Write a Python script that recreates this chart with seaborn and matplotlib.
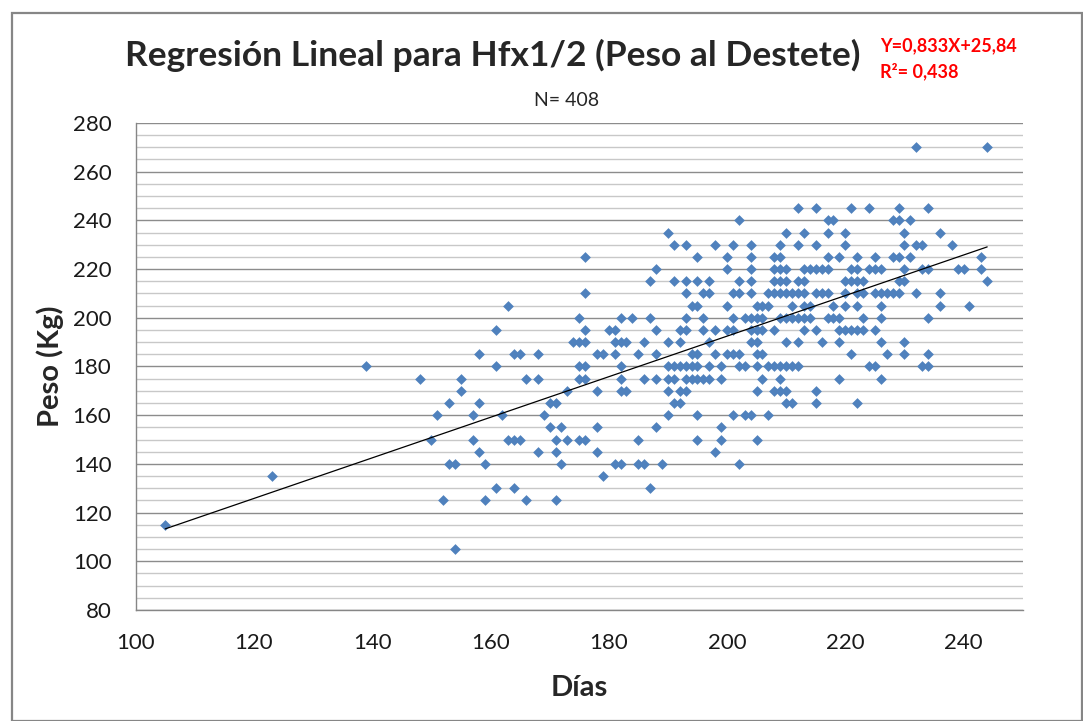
"""Regresion lineal Hfx1/2: peso al destete vs dias."""
import numpy as np
import pandas as pd
import matplotlib
matplotlib.use("Agg")
import matplotlib.pyplot as plt
import seaborn as sns
from matplotlib.patches import Rectangle
from matplotlib.ticker import MultipleLocator

PESO_NIVELES = [270, 245, 240, 235, 230, 225, 220, 215, 210, 205, 200, 195, 190,
                185, 180, 175, 170, 165, 160, 155, 150, 145, 140, 135, 130, 125,
                115, 105]
DIAS_POR_NIVEL = [
    [232, 244],
    [212, 215, 221, 224, 229, 234],
    [202, 217, 218, 228, 229, 231],
    [190, 210, 213, 217, 220, 230, 236],
    [191, 193, 198, 201, 204, 209, 212, 215, 220, 230, 232, 233, 238],
    [176, 195, 200, 204, 208, 209, 217, 219, 222, 225, 228, 229, 231, 243],
    [188, 200, 204, 208, 209, 210, 213, 214, 215, 216, 217, 221, 222, 224, 225,
     226, 230, 233, 234, 239, 240, 243],
    [187, 191, 193, 195, 197, 202, 204, 208, 209, 210, 212, 213, 220, 221, 222,
     223, 229, 230, 244],
    [176, 193, 196, 197, 201, 202, 204, 207, 208, 209, 210, 211, 212, 213, 215,
     216, 217, 220, 222, 223, 225, 226, 227, 228, 229, 232, 236],
    [163, 194, 195, 200, 205, 206, 207, 211, 213, 214, 218, 220, 222, 226, 236, 241],
    [175, 182, 184, 187, 193, 196, 201, 203, 204, 205, 206, 209, 210, 211, 212,
     213, 214, 217, 218, 219, 223, 226, 234],
    [161, 176, 180, 181, 188, 192, 193, 196, 198, 200, 201, 204, 205, 206, 208,
     213, 215, 219, 220, 221, 222, 223, 225],
    [174, 175, 176, 181, 182, 183, 186, 190, 192, 197, 204, 205, 210, 212, 216,
     219, 226, 230],
    [158, 164, 165, 168, 178, 179, 181, 185, 188, 194, 195, 198, 200, 201, 202,
     205, 206, 221, 227, 230, 234],
    [139, 161, 175, 176, 182, 190, 191, 192, 193, 194, 195, 197, 199, 202, 203,
     205, 207, 208, 209, 210, 211, 212, 224, 225, 233, 234],
    [148, 155, 166, 168, 175, 176, 182, 186, 188, 190, 191, 193, 194, 195, 196,
     197, 199, 206, 209, 219, 226],
    [155, 173, 178, 182, 183, 190, 192, 193, 205, 208, 209, 210, 215],
    [153, 158, 170, 171, 191, 192, 210, 211, 215, 222],
    [151, 157, 162, 169, 190, 195, 201, 203, 204, 207],
    [170, 172, 178, 188, 199],
    [150, 157, 163, 164, 165, 171, 173, 175, 176, 185, 195, 199, 205],
    [158, 168, 171, 178, 198],
    [153, 154, 159, 172, 181, 182, 185, 186, 189, 202],
    [123, 179],
    [161, 164, 187],
    [152, 159, 166, 171],
    [105],
    [154],
]

# trend line as printed on the chart
PENDIENTE = 0.833
INTERCEPTO = 25.84
N_TOTAL = 408
R2 = 0.438

X_TICKS = [100, 120, 140, 160, 180, 200, 220, 240]
Y_TICKS = [80, 100, 120, 140, 160, 180, 200, 220, 240, 260, 280]

AZUL = "#4F81BD"
GRIS = "#868686"


def build_frame():
    rows = []
    for peso, dias in zip(PESO_NIVELES, DIAS_POR_NIVEL):
        for d in dias:
            rows.append({"dias": d, "peso": peso})
    return pd.DataFrame(rows)


def main():
    df = build_frame()
    sns.set_style("white")
    plt.rcParams["font.family"] = ["Lato", "DejaVu Sans"]

    fig = plt.figure(figsize=(10.83, 7.21), dpi=100)
    ax = fig.add_axes([0.1253, 0.154, 0.8190, 0.6755])

    # chart frame
    fig.patches.append(Rectangle((12 / 1083, 0), 1 - 13 / 1083, 1 - 13 / 721,
                                 transform=fig.transFigure, fill=False,
                                 edgecolor=GRIS, linewidth=1.6))

    ax.set_xlim(100, 250)
    ax.set_ylim(80, 280)
    ax.yaxis.set_minor_locator(MultipleLocator(5))
    ax.set_yticks(Y_TICKS)
    ax.set_xticks(X_TICKS)
    ax.grid(False)
    ax.grid(True, which="minor", axis="y", color="#C8C8C8", linewidth=1.0)
    ax.grid(True, which="major", axis="y", color="#8C8C8C", linewidth=1.0)
    ax.set_axisbelow(True)

    sns.scatterplot(data=df, x="dias", y="peso", marker="D", color=AZUL,
                    s=30, linewidth=0, ax=ax, zorder=3)

    xl = np.array([df["dias"].min(), df["dias"].max()])
    sns.lineplot(x=xl, y=PENDIENTE * xl + INTERCEPTO, color="black",
                 linewidth=0.9, ax=ax, zorder=4)

    for side in ["top", "right"]:
        ax.spines[side].set_visible(False)
    for side in ["left", "bottom"]:
        ax.spines[side].set_color(GRIS)
        ax.spines[side].set_linewidth(1.0)
    ax.tick_params(axis="both", which="major", direction="out", length=5.5,
                   color=GRIS, labelsize=16, labelcolor="#1a1a1a")
    ax.tick_params(axis="y", which="minor", length=0)
    ax.tick_params(axis="y", pad=12)
    ax.tick_params(axis="x", pad=11)

    ax.set_xlabel("Días", fontsize=21, fontweight="bold", va="center")
    ax.set_ylabel("Peso (Kg)", fontsize=21, fontweight="bold", va="center")
    ax.xaxis.set_label_coords(0.5, -0.160)
    ax.yaxis.set_label_coords(-0.0966, 0.5)

    fig.text(493 / 1083, 1 - 55 / 721, "Regresión Lineal para Hfx1/2 (Peso al Destete)",
             ha="center", va="center", fontsize=25.5, fontweight="bold")
    fig.text(567 / 1083, 1 - 100 / 721, f"N= {N_TOTAL}", ha="center", va="center",
             fontsize=14)
    fig.text(880 / 1083, 1 - 46 / 721,
             f"Y={PENDIENTE:.3f}X+{INTERCEPTO:.2f}".replace(".", ","),
             ha="left", va="center", fontsize=13, fontweight="bold", color="#FF0000")
    fig.text(880 / 1083, 1 - 71 / 721, f"R²= {R2:.3f}".replace(".", ","),
             ha="left", va="center", fontsize=13, fontweight="bold", color="#FF0000")

    fig.savefig("out.png", dpi=100)
    plt.close(fig)


if __name__ == "__main__":
    main()
